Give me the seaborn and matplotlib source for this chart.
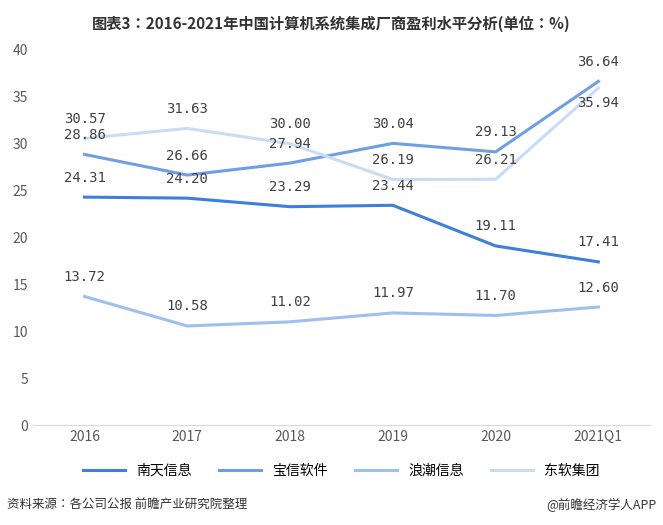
import matplotlib
matplotlib.use("Agg")
import matplotlib.pyplot as plt
from matplotlib import font_manager
import seaborn as sns
import pandas as pd

years = ["2016", "2017", "2018", "2019", "2020", "2021Q1"]
nantian = [24.31, 24.20, 23.29, 23.44, 19.11, 17.41]
baoxin = [28.86, 26.66, 27.94, 30.04, 29.13, 36.64]
langchao = [13.72, 10.58, 11.02, 11.97, 11.70, 12.60]
dongruan = [30.57, 31.63, 30.00, 26.19, 26.21, 35.94]
names = ["南天信息", "宝信软件", "浪潮信息", "东软集团"]
colors = ["#3d7fdc", "#6f9fe3", "#9fbfee", "#c9dcf6"]

# pick whichever CJK font is registered
available = {f.name for f in font_manager.fontManager.ttflist}
cjk = [n for n in ["Noto Sans CJK SC", "Noto Sans CJK JP", "Noto Sans CJK TC",
                   "Noto Sans CJK KR"] if n in available]
plt.rcParams["font.family"] = "sans-serif"
plt.rcParams["font.sans-serif"] = cjk + ["DejaVu Sans"]

rows = []
for n, vals in zip(names, [nantian, baoxin, langchao, dongruan]):
    for i, v in enumerate(vals):
        rows.append({"年份": i, "公司": n, "值": v})
df = pd.DataFrame(rows)

fig = plt.figure(figsize=(6.63, 5.25), dpi=100)
ax = fig.add_axes([0.05, 0.19, 0.93, 0.715])
sns.lineplot(data=df, x="年份", y="值", hue="公司", palette=colors,
             hue_order=names, linewidth=2.2, ax=ax, legend=True)

for _, r in df.iterrows():
    below = r["公司"] == "东软集团" and r["年份"] == 5
    ax.annotate(f"{r['值']:.2f}", (r["年份"], r["值"]), xytext=(0, -6 if below else 9),
                textcoords="offset points", ha="center", va="top" if below else "bottom",
                fontsize=10, color="#404040", family="DejaVu Sans Mono")

ax.set_xlim(-0.5, 5.5)
ax.set_ylim(0, 40)
ax.set_yticks(range(0, 41, 5))
ax.set_xticks(range(6))
ax.set_xticklabels(years)
ax.tick_params(colors="#595959", labelsize=10, length=0)
ax.set_xlabel("")
ax.set_ylabel("")
for s in ["top", "right", "left"]:
    ax.spines[s].set_visible(False)
ax.spines["bottom"].set_color("#d9d9d9")

ax.legend(loc="upper center", bbox_to_anchor=(0.5, -0.07), ncol=4,
          frameon=False, fontsize=10, handlelength=3)

fig.text(0.5, 0.955, "图表3：2016-2021年中国计算机系统集成厂商盈利水平分析(单位：%)",
         ha="center", va="center", fontsize=11, weight="bold", color="#333333")
fig.text(0.01, 0.03, "资料来源：各公司公报 前瞻产业研究院整理", fontsize=9, color="#333333")
fig.text(0.99, 0.03, "@前瞻经济学人APP", fontsize=9, color="#333333", ha="right")

fig.savefig("out.png", dpi=100)
